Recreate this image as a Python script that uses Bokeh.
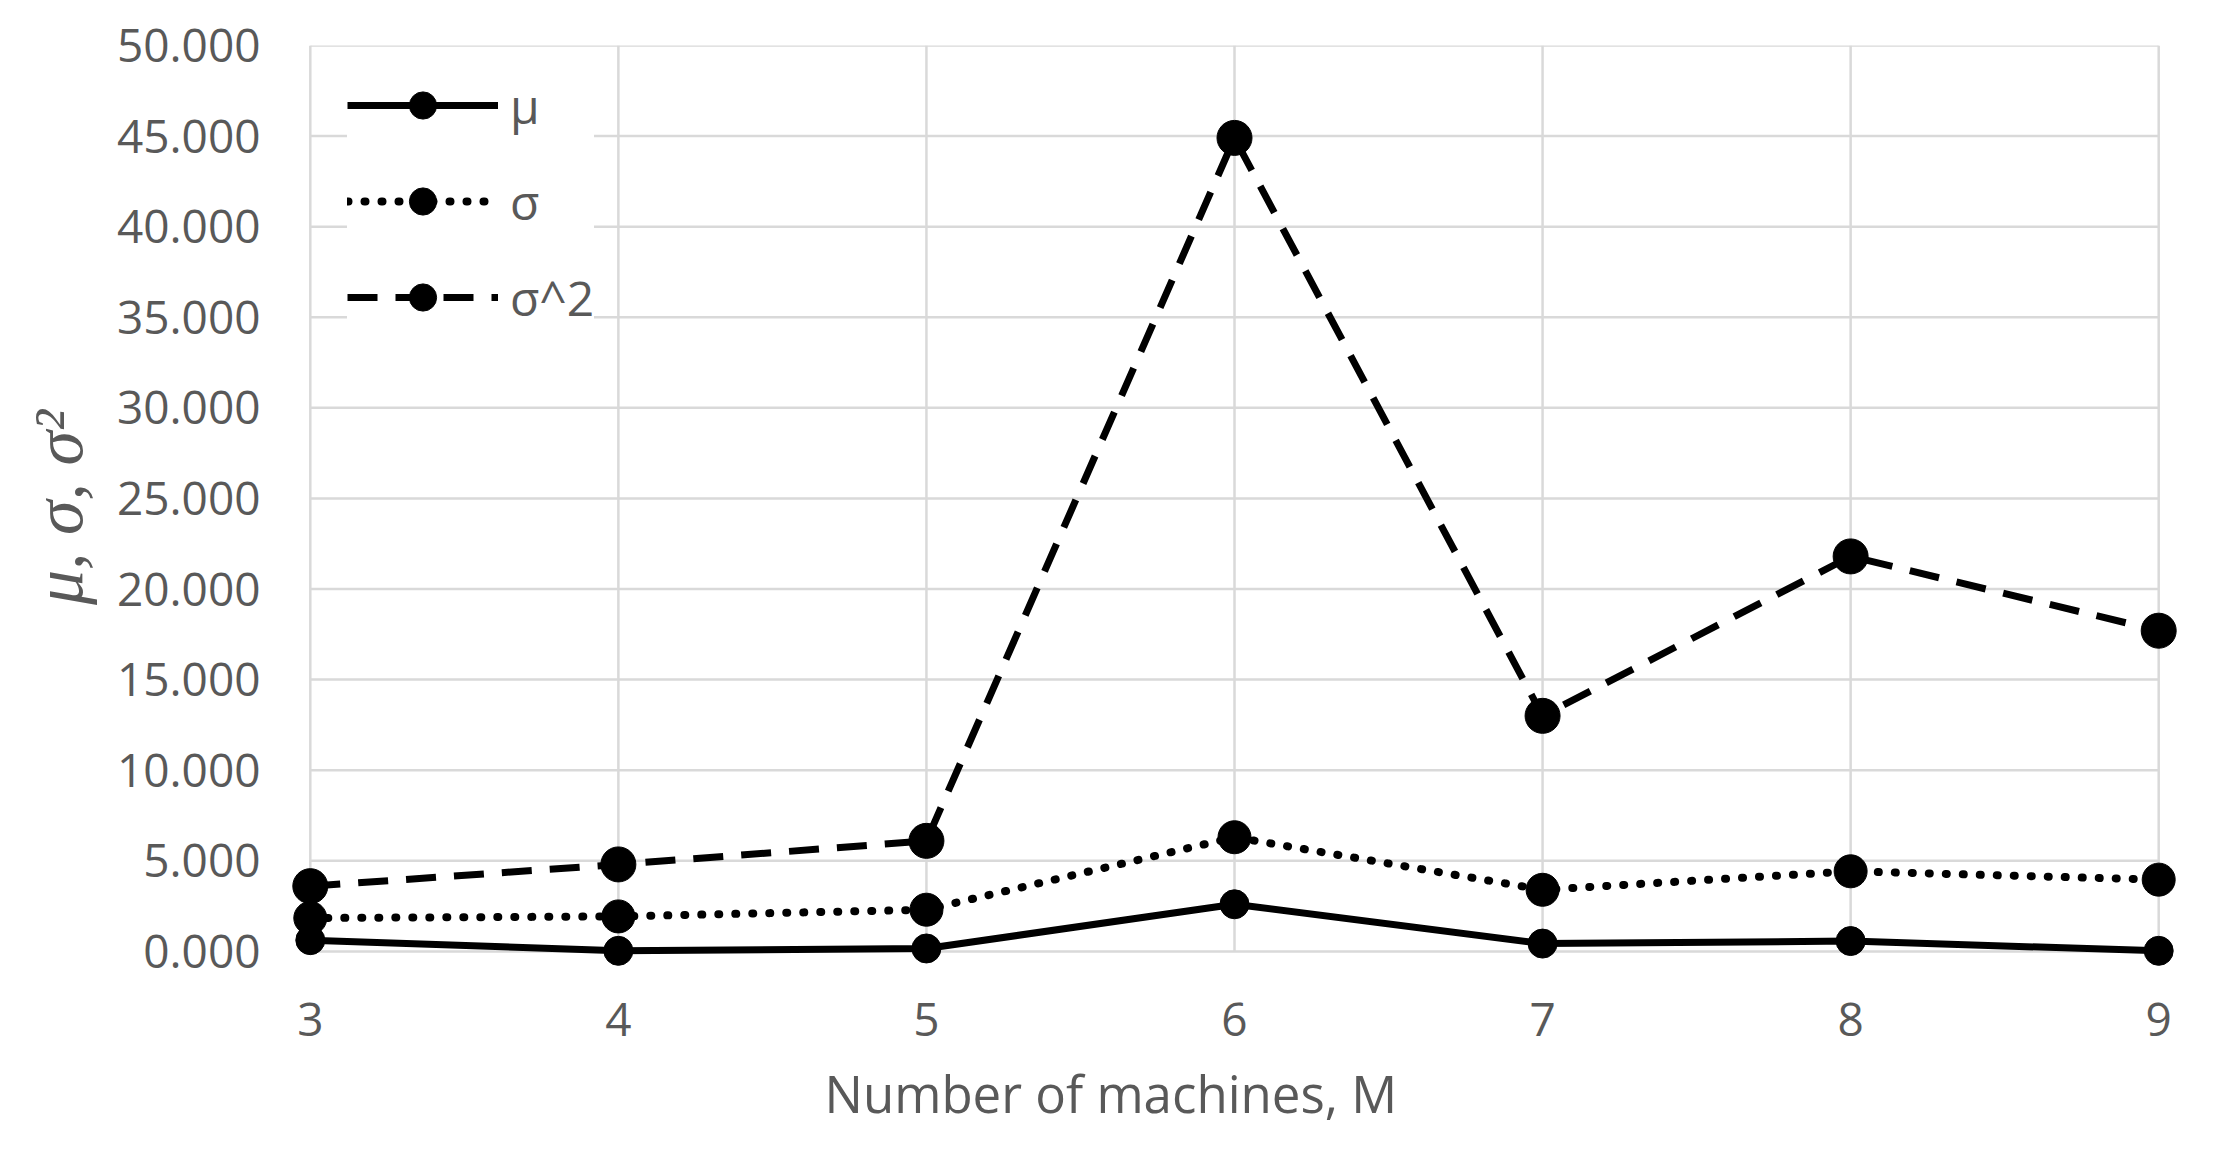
from bokeh.plotting import figure
from bokeh.models import (Range1d, FixedTicker, NumeralTickFormatter, Legend, LegendItem,
                          ColumnDataSource, Title)
from bokeh.embed import file_html
from bokeh.resources import INLINE

# ---- data ----
machines = [3, 4, 5, 6, 7, 8, 9]
mu = [0.62, 0.03, 0.16, 2.60, 0.43, 0.57, 0.03]
sigma = [1.84, 1.93, 2.30, 6.30, 3.40, 4.42, 3.96]
sigma2 = [3.60, 4.80, 6.10, 44.90, 13.00, 21.80, 17.70]
x_ticks = [3, 4, 5, 6, 7, 8, 9]
y_ticks = [0, 5, 10, 15, 20, 25, 30, 35, 40, 45, 50]
series_labels = ["μ", "σ", "σ^2"]
x_title = "Number of machines, M"
y_title = "μ, σ, σ²"

TXT = "#595959"
GRID = "#d9d9d9"

p = figure(width=2197, height=1150, output_backend="svg", toolbar_location=None,
           x_range=Range1d(x_ticks[0] - 0.1, x_ticks[-1] + 0.1),
           y_range=Range1d(y_ticks[0] - 1, y_ticks[-1]),
           min_border_left=279, min_border_right=8, min_border_top=45, min_border_bottom=181)
p.outline_line_color = None
p.background_fill_color = "white"
p.border_fill_color = "white"
p.xgrid.grid_line_color = None
p.ygrid.grid_line_color = None

# grid lines bounded to the data extent
xmin, xmax = x_ticks[0], x_ticks[-1]
ymin, ymax = y_ticks[0], y_ticks[-1]
p.multi_line(xs=[[xmin, xmax] for _ in y_ticks], ys=[[y, y] for y in y_ticks],
             line_color=GRID, line_width=2.5, level="underlay")
p.multi_line(xs=[[x, x] for x in x_ticks], ys=[[ymin, ymax] for _ in x_ticks],
             line_color=GRID, line_width=2.5, level="underlay")

src = ColumnDataSource(dict(x=machines, mu=mu, sigma=sigma, sigma2=sigma2))

l1 = p.line("x", "mu", source=src, line_color="black", line_width=7, line_join="round")
m1 = p.scatter("x", "mu", source=src, size=29, fill_color="black", line_color="black")
l2 = p.line("x", "sigma", source=src, line_color="black", line_width=8,
            line_dash="1 16", line_cap="round")
m2 = p.scatter("x", "sigma", source=src, size=33, fill_color="black", line_color="black")
l3 = p.line("x", "sigma2", source=src, line_color="black", line_width=7,
            line_dash="30 18")
m3 = p.scatter("x", "sigma2", source=src, size=35, fill_color="black", line_color="black")

# axes
for ax in (p.xaxis[0], p.yaxis[0]):
    ax.axis_line_color = None
    ax.major_tick_line_color = None
    ax.minor_tick_line_color = None
    ax.major_tick_out = 0
    ax.major_tick_in = 0
    ax.major_label_text_color = TXT
    ax.major_label_text_font = "Open Sans"
    ax.major_label_text_font_size = "46px"

p.xaxis.ticker = FixedTicker(ticks=x_ticks)
p.yaxis.ticker = FixedTicker(ticks=y_ticks)
p.yaxis.formatter = NumeralTickFormatter(format="0.000")
p.xaxis.major_label_standoff = 33
p.yaxis.major_label_standoff = 19

# axis titles
p.add_layout(Title(text=x_title, align="left", offset=545, standoff=34,
                   text_color=TXT, text_font="Open Sans", text_font_size="51px",
                   text_font_style="normal"), "below")
p.add_layout(Title(text=y_title, align="center", offset=42, standoff=33,
                   text_color=TXT, text_font="Liberation Serif", text_font_size="70px",
                   text_font_style="italic"), "left")

legend = Legend(items=[
    LegendItem(label=series_labels[0], renderers=[l1, m1]),
    LegendItem(label=series_labels[1], renderers=[l2, m2]),
    LegendItem(label=series_labels[2], renderers=[l3, m3]),
], location=(68, 638))
legend.padding = 30
legend.margin = 0
legend.spacing = 28
legend.glyph_width = 151
legend.glyph_height = 68
legend.label_height = 68
legend.label_standoff = 12
legend.label_text_font = "Open Sans"
legend.label_text_font_size = "48px"
legend.label_text_color = TXT
legend.border_line_color = None
legend.background_fill_color = "white"
legend.background_fill_alpha = 1.0
p.add_layout(legend, "center")

open("out.html", "w").write(file_html(p, INLINE))
